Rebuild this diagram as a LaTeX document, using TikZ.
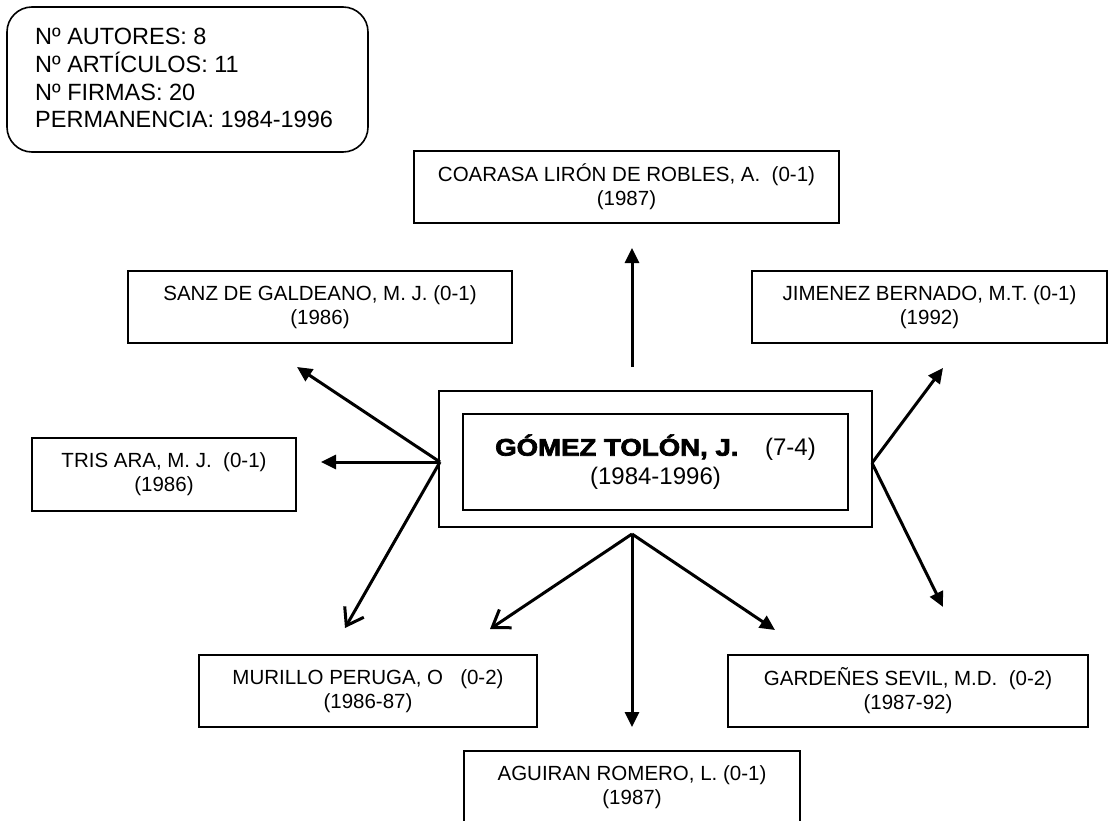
\documentclass[tikz,border=0pt]{standalone}
\usepackage{fontspec}
\setmainfont{Liberation Sans}
\newfontfamily\blackfont{Liberation Sans}[BoldFeatures={FakeStretch=1.15,FakeBold=3}]
\usetikzlibrary{arrows.meta}
\begin{document}
\begin{tikzpicture}[x=1pt,y=-1pt,
  boxstyle/.style={draw=black,line width=1.6pt,inner sep=0pt,align=center,
    font=\fontsize{20.5}{24}\selectfont},
  infotxt/.style={anchor=base west,inner sep=0pt,font=\fontsize{23.5}{27.7}\selectfont},
  fullarrow/.style={line width=3pt,-{Triangle[length=15pt,width=14pt]}},
  openarrow/.style={line width=3pt,-{Straight Barb[length=16pt,width=22pt]}}]
\useasboundingbox (0,0) rectangle (1108,821);
\clip (0,0) rectangle (1108,821);

% info box
\node[draw=black,line width=1.6pt,rounded corners=25pt,minimum width=361pt,minimum height=145pt,inner sep=0pt] (info) at (187.5,79.5) {};
\node[infotxt] (i1) at (35,45) {Nº AUTORES: 8};
\node[infotxt] (i2) at (35,72.7) {Nº ARTÍCULOS: 11};
\node[infotxt] (i3) at (35,100.4) {Nº FIRMAS: 20};
\node[infotxt] (i4) at (35,128) {PERMANENCIA: 1984-1996};

% author boxes
\node[boxstyle,minimum width=425pt,minimum height=72pt] (coarasa) at (626.5,187) {COARASA LIRÓN DE ROBLES, A.\ \ (0-1)\\(1987)};
\node[boxstyle,minimum width=384pt,minimum height=72pt] (sanz) at (320,307) {SANZ DE GALDEANO, M. J. (0-1)\\(1986)};
\node[boxstyle,minimum width=355pt,minimum height=72pt] (jimenez) at (929.5,307) {JIMENEZ BERNADO, M.T. (0-1)\\(1992)};
\node[boxstyle,minimum width=264pt,minimum height=73pt] (tris) at (164,474.5) {TRIS ARA, M. J.\ \ (0-1)\\(1986)};
\node[boxstyle,minimum width=338pt,minimum height=72pt] (murillo) at (368,691) {MURILLO PERUGA, O\ \ \ (0-2)\\(1986-87)};
\node[boxstyle,minimum width=360pt,minimum height=72pt] (gardenes) at (908,691) {GARDEÑES SEVIL, M.D.\ \ (0-2)\\(1987-92)};
\node[boxstyle,minimum width=336pt,minimum height=72pt] (aguiran) at (632,787) {AGUIRAN ROMERO, L. (0-1)\\(1987)};

% central boxes
\node[draw=black,line width=1.6pt,minimum width=433pt,minimum height=136pt,inner sep=0pt] (outer) at (655.5,459) {};
\node[draw=black,line width=1.6pt,minimum width=385pt,minimum height=96pt,inner sep=0pt,align=center,
  font=\fontsize{24}{29}\selectfont] (inner) at (655.5,462)
  {{\blackfont\bfseries GÓMEZ TOLÓN, J.}\ \ \ \ (7-4)\\(1984-1996)};

% connector end points
\coordinate (lsrc) at (440,462);
\coordinate (rsrc) at (872,463);
\coordinate (bsrc) at (632,534);
\coordinate (usrc) at (632,367);
\coordinate (tcoarasa) at (632,248);
\coordinate (tsanz) at (297,367);
\coordinate (ttris) at (321,462);
\coordinate (tmurillo) at (345,628);
\coordinate (tmur2) at (490,629);
\coordinate (taguiran) at (632,727);
\coordinate (tgard2) at (775,630);
\coordinate (tjimenez) at (943,368);
\coordinate (tgardenes) at (943,607);

% connectors
\draw[fullarrow] (usrc) -- (tcoarasa);
\draw[fullarrow] (lsrc) -- (tsanz);
\draw[fullarrow] (lsrc) -- (ttris);
\draw[openarrow] (lsrc) -- (tmurillo);
\draw[openarrow] (bsrc) -- (tmur2);
\draw[fullarrow] (bsrc) -- (taguiran);
\draw[fullarrow] (bsrc) -- (tgard2);
\draw[fullarrow] (rsrc) -- (tjimenez);
\draw[fullarrow] (rsrc) -- (tgardenes);
\end{tikzpicture}
\end{document}
